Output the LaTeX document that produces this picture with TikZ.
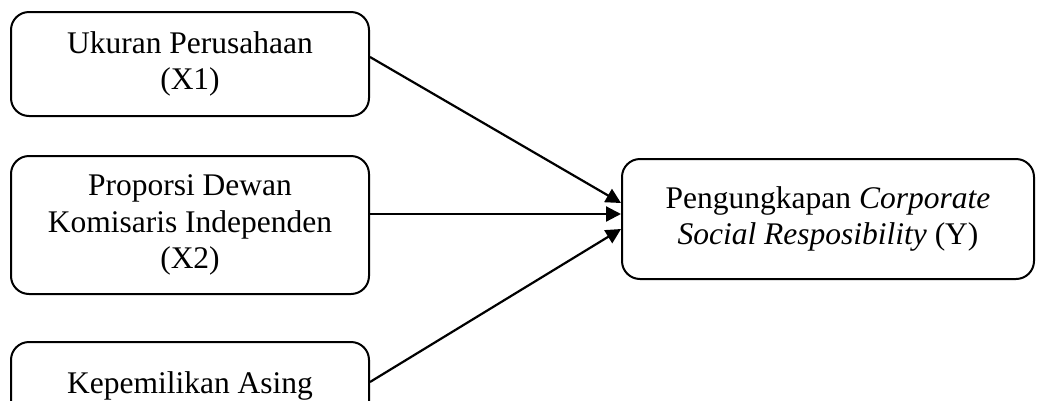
\documentclass[tikz,border=0pt]{standalone}
\usepackage{fontspec}
\setmainfont{Liberation Serif}
\usetikzlibrary{arrows.meta}
\begin{document}
\begin{tikzpicture}[x=1pt,y=-1pt,
  varbox/.style={draw=black, line width=2pt, rounded corners=18pt, align=center,
    font=\fontsize{31.5}{36.5}\selectfont, inner sep=0pt},
  link/.style={line width=2.2pt, -{Triangle[length=15pt,width=15pt]}}]
\useasboundingbox (0,0) rectangle (1037,400);
\clip (0,0) rectangle (1037,400);
\node[varbox, minimum width=358pt, minimum height=104pt] (b1) at (190,64) {Ukuran Perusahaan\\(X1)};
\node[varbox, minimum width=358pt, minimum height=138pt] (b2) at (190,225) {Proporsi Dewan\\Komisaris Independen\\(X2)};
\node[varbox, minimum width=358pt, anchor=north, inner ysep=30pt, text height=21pt, text depth=60pt] (b3) at (190,341) {Kepemilikan Asing};
\node[varbox, minimum width=412pt, minimum height=120pt] (y) at (828,219) {Pengungkapan \textit{Corporate}\\\textit{Social Resposibility} (Y)};
\draw[link] ([yshift=7pt]b1.east) -- ([yshift=16pt]y.west);
\draw[link] ([yshift=11pt]b2.east) -- ([yshift=5pt]y.west);
\draw[link] ([yshift=-41pt]b3.north east) -- ([yshift=-10pt]y.west);
\end{tikzpicture}
\end{document}
